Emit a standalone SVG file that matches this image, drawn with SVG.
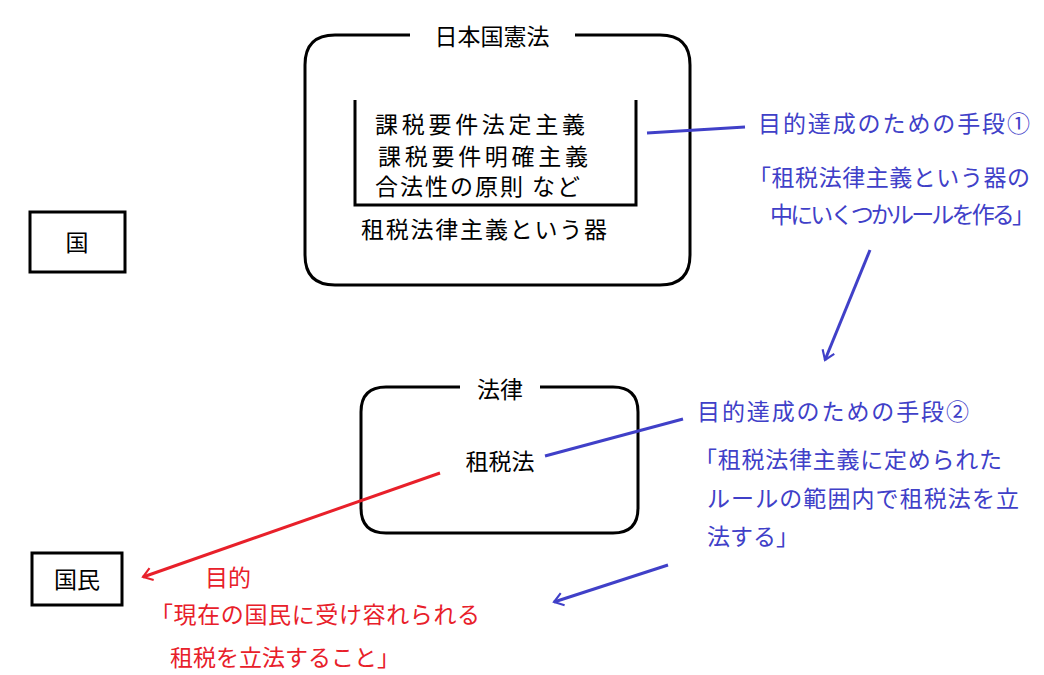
<svg xmlns="http://www.w3.org/2000/svg" width="1044" height="675" viewBox="0 0 1044 675">
<style>
text{font-family:"Noto Sans CJK JP","Noto Sans CJK SC",sans-serif;font-size:23px;fill:#000}
.b{fill:#4040c8}.r{fill:#e8202a}
.box{fill:none;stroke:#000;stroke-width:3}
</style>
<defs>
<marker id="ab" viewBox="0 0 10 10" refX="9" refY="5" markerWidth="7" markerHeight="7" orient="auto" markerUnits="userSpaceOnUse" style="overflow:visible"><path d="M-4,-4 L9,5 L-4,14" fill="none" stroke="#4040c8" stroke-width="3"/></marker>
<marker id="ar" viewBox="0 0 10 10" refX="9" refY="5" markerWidth="7" markerHeight="7" orient="auto" markerUnits="userSpaceOnUse" style="overflow:visible"><path d="M-4,-4 L9,5 L-4,14" fill="none" stroke="#e8202a" stroke-width="3"/></marker>
</defs>
<g id="kenpo">
<path class="box" d="M410,35 H335 Q305,35 305,65 V255 Q305,285 335,285 H660 Q690,285 690,255 V65 Q690,35 660,35 H575"/>
<text x="492" y="45" text-anchor="middle">日本国憲法</text>
<path class="box" d="M355,100 V205 H636 V100" stroke-width="2.5"/>
<text x="375" y="133" textLength="210">課税要件法定主義</text>
<text x="378" y="165" textLength="210">課税要件明確主義</text>
<text x="375" y="195" font-size="22" textLength="205">合法性の原則 など</text>
<text x="484" y="238" text-anchor="middle" textLength="246">租税法律主義という器</text>
</g>
<g id="kuni"><rect class="box" x="30" y="212" width="95" height="60"/><text x="77" y="251" text-anchor="middle">国</text></g>
<g id="kokumin"><rect class="box" x="32" y="553" width="90" height="52"/><text x="77" y="588" text-anchor="middle">国民</text></g>
<g id="horitsu">
<path class="box" d="M460,387 H386 Q361,387 361,412 V508 Q361,533 386,533 H613 Q638,533 638,508 V412 Q638,387 613,387 H540"/>
<text x="500" y="398" text-anchor="middle">法律</text>
<text x="500" y="470" text-anchor="middle">租税法</text>
</g>
<g id="labels">
<text class="b" x="758" y="132" textLength="272">目的達成のための手段①</text>
<text class="b" x="748" y="186" textLength="282">「租税法律主義という器の</text>
<text class="b" x="770" y="223" textLength="265">中にいくつかルールを作る」</text>
<text class="b" x="697" y="420" textLength="272">目的達成のための手段②</text>
<text class="b" x="694" y="468" textLength="308">「租税法律主義に定められた</text>
<text class="b" x="707" y="507" textLength="312">ルールの範囲内で租税法を立</text>
<text class="b" x="707" y="545">法する」</text>
<text class="r" x="205" y="586">目的</text>
<text class="r" x="150" y="623" textLength="330">「現在の国民に受け容れられる</text>
<text class="r" x="170" y="666">租税を立法すること」</text>
</g>
<g id="connectors" fill="none" stroke-width="3">
<line x1="647" y1="133" x2="745" y2="127" stroke="#4040c8"/>
<line x1="870" y1="250" x2="825" y2="360" stroke="#4040c8" marker-end="url(#ab)"/>
<line x1="545" y1="456" x2="683" y2="419" stroke="#4040c8"/>
<line x1="668" y1="565" x2="554" y2="602" stroke="#4040c8" marker-end="url(#ab)"/>
<line x1="440" y1="473" x2="143" y2="577" stroke="#e8202a" marker-end="url(#ar)"/>
</g>
</svg>
